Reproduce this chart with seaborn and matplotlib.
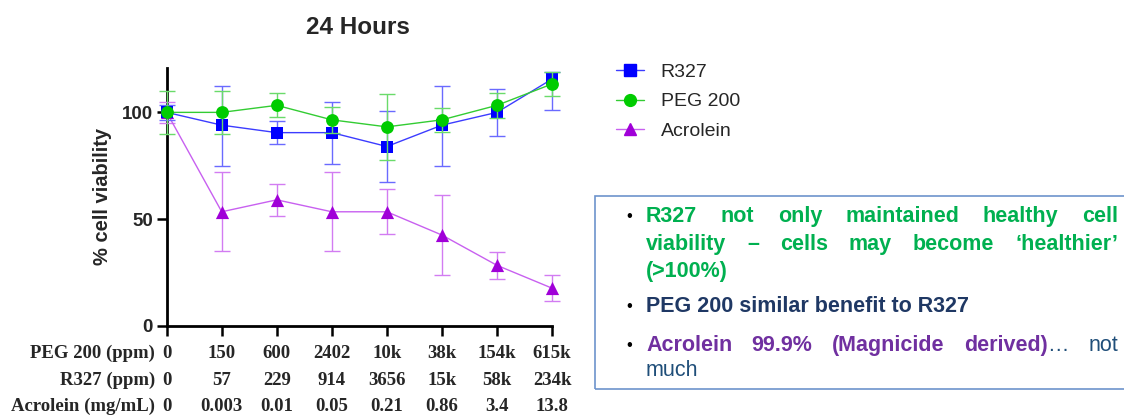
"""24 hour cell viability chart with notes box."""

import matplotlib
matplotlib.use("Agg")
import matplotlib.pyplot as plt
import matplotlib.transforms as mtransforms
import seaborn as sns
import pandas as pd
from matplotlib.lines import Line2D
from matplotlib.patches import Rectangle

# dose rows under each tick
peg_doses = ["0", "150", "600", "2402", "10k", "38k", "154k", "615k"]
r327_doses = ["0", "57", "229", "914", "3656", "15k", "58k", "234k"]
acrolein_doses = ["0", "0.003", "0.01", "0.05", "0.21", "0.86", "3.4", "13.8"]
row_titles = ["PEG 200 (ppm)", "R327 (ppm)", "Acrolein (mg/mL)"]

# % viability, mean and error (low / high)
r327_mean = [100, 94, 90.5, 90.5, 84, 94, 100, 115.6]
r327_err_lo = [3.5, 19, 5.5, 14.5, 16.5, 19, 11, 14.6]
r327_err_hi = [3.5, 18.5, 5.5, 14.5, 16.5, 18.5, 11, 3.4]

peg_mean = [100, 100, 103.3, 96.5, 93.2, 96.5, 103.3, 113.3]
peg_err_lo = [10, 10, 5.7, 6, 15.3, 5.5, 6, 5.8]
peg_err_hi = [10, 10, 5.7, 6, 15.3, 5.5, 6, 5.8]

acro_mean = [100, 53.4, 59, 53.4, 53.4, 42.5, 28.3, 17.6]
acro_err_lo = [5, 18.5, 7.5, 18.5, 10.5, 18.6, 6.3, 6.1]
acro_err_hi = [5, 18.5, 7.5, 18.5, 10.5, 18.6, 6.3, 6.1]

series = {
    "R327": (r327_mean, r327_err_lo, r327_err_hi),
    "PEG 200": (peg_mean, peg_err_lo, peg_err_hi),
    "Acrolein": (acro_mean, acro_err_lo, acro_err_hi),
}
styles = {
    "R327": dict(marker="s", color="#0000FF", line="#3C3CFF", err="#6A6AFF", s=75, z=4),
    "PEG 200": dict(marker="o", color="#00CC00", line="#33CC33", err="#6ADB6A", s=85, z=5),
    "Acrolein": dict(marker="^", color="#A000D8", line="#C860F0", err="#D27CF2", s=90, z=3),
}

rows = []
for name, (mean, lo, hi) in series.items():
    for i, v in enumerate(mean):
        rows.append({"series": name, "pos": i, "viability": v, "lo": lo[i], "hi": hi[i]})
df = pd.DataFrame(rows)

sns.set_theme(style="ticks")
plt.rcParams["font.family"] = ["Liberation Sans", "DejaVu Sans"]

W, H = 1124, 415
fig = plt.figure(figsize=(W / 100, H / 100), dpi=100)
ax = fig.add_axes([166.7 / W, 1 - 325.7 / H, (552 - 166.7) / W, (325.7 - 68) / H])

for name in ["Acrolein", "R327", "PEG 200"]:
    st = styles[name]
    sub = df[df["series"] == name]
    ax.errorbar(sub["pos"], sub["viability"], yerr=[sub["lo"], sub["hi"]], fmt="none",
                ecolor=st["err"], elinewidth=1, capsize=6, capthick=1,
                zorder=st["z"], clip_on=False)
    sns.lineplot(data=sub, x="pos", y="viability", color=st["line"], lw=1,
                 ax=ax, zorder=st["z"], legend=False)
    sns.scatterplot(data=sub, x="pos", y="viability", marker=st["marker"],
                    color=st["color"], s=st["s"], linewidth=0, ax=ax,
                    zorder=st["z"] + 0.5, clip_on=False, legend=False)

ax.set_xlim(0, 7)
ax.set_ylim(0, 120.8)
ax.set_yticks([0, 50, 100])
ax.set_yticklabels(["0", "50", "100"], fontsize=13.5, fontweight="bold")
ax.set_xticks(range(len(peg_doses)))
ax.set_xticklabels([])
ax.tick_params(direction="out", length=7, width=1.8, color="black")
ax.tick_params(axis="y", pad=3)
for side in ["top", "right"]:
    ax.spines[side].set_visible(False)
for side in ["left", "bottom"]:
    ax.spines[side].set_linewidth(2)
    ax.spines[side].set_color("black")
ax.set_xlabel("")
ax.set_ylabel("% cell viability", fontsize=14.5, fontweight="bold")
ax.yaxis.set_label_coords(-0.142, 0.5)

# three rows of dose labels under the ticks, x from data, y in figure pixels
serif = ["Liberation Serif", "DejaVu Serif"]
blend = mtransforms.blended_transform_factory(ax.transData, fig.transFigure)
for title, labels, base in zip(row_titles, [peg_doses, r327_doses, acrolein_doses],
                               [357.5, 384.5, 410.5]):
    fig.text(155 / W, 1 - base / H, title, ha="right", va="baseline",
             fontsize=13.5, fontweight="bold", family=serif)
    for i, lab in enumerate(labels):
        ax.text(i, 1 - base / H, lab, transform=blend, ha="center", va="baseline",
                fontsize=13.5, fontweight="bold", family=serif, clip_on=False)

fig.text(358 / W, 1 - 28 / H, "24 Hours", ha="center", va="center",
         fontsize=17.5, fontweight="bold")

handles = [
    Line2D([], [], color=styles[n]["line"], lw=1, marker=styles[n]["marker"],
           markerfacecolor=styles[n]["color"], markeredgecolor=styles[n]["color"],
           markersize=8.5)
    for n in ["R327", "PEG 200", "Acrolein"]
]
fig.legend(handles, ["R327", "PEG 200", "Acrolein"], loc="upper left",
           bbox_to_anchor=(616 / W, 1 - 63.5 / H), frameon=False, fontsize=14,
           handlelength=1.45, handletextpad=0.85, labelspacing=0.6,
           borderpad=0, borderaxespad=0)

# notes box
fig.patches.append(Rectangle((595 / W, 1 - 389 / H), (W + 10 - 595) / W, (389 - 196) / H,
                             transform=fig.transFigure, fill=False,
                             edgecolor="#6D93CC", lw=1.2))

GREEN = "#00B050"
NAVY = "#1F3864"
PURPLE = "#7030A0"
BLUE = "#1F4E79"
FS = 15.5
renderer = fig.canvas.get_renderer()


def justified(y, words, left=646, right=1118):
    texts = []
    for word in words:
        segs = []
        for txt, col, wt in word:
            segs.append(fig.text(0, 1 - y / H, txt, color=col, fontweight=wt,
                                 fontsize=FS, va="center", ha="left"))
        texts.append(segs)
    widths = [[t.get_window_extent(renderer).width for t in segs] for segs in texts]
    total = sum(sum(w) for w in widths)
    gap = (right - left - total) / (len(texts) - 1)
    x = left
    for segs, ws in zip(texts, widths):
        for t, w in zip(segs, ws):
            t.set_x(x / W)
            x += w
        x += gap


def green_words(line):
    return [[(w, GREEN, "bold")] for w in line.split()]


justified(216, green_words("R327 not only maintained healthy cell"))
justified(244, green_words("viability \u2013 cells may become \u2018healthier\u2019"))
fig.text(646 / W, 1 - 271 / H, "(>100%)", color=GREEN, fontweight="bold",
         fontsize=FS, va="center")
fig.text(646 / W, 1 - 307 / H, "PEG 200 similar benefit to R327", color=NAVY,
         fontweight="bold", fontsize=FS, va="center")
justified(345, [
    [("Acrolein", PURPLE, "bold")],
    [("99.9%", PURPLE, "bold")],
    [("(Magnicide", PURPLE, "bold")],
    [("derived)", PURPLE, "bold"), ("\u2026", BLUE, "normal")],
    [("not", BLUE, "normal")],
])
fig.text(646 / W, 1 - 370 / H, "much", color=BLUE, fontsize=FS, va="center")

for y in [216, 307, 345]:
    fig.text(629 / W, 1 - y / H, "\u2022", color="black", fontsize=12,
             ha="center", va="center")

fig.savefig("out.png", dpi=100)
plt.close(fig)
